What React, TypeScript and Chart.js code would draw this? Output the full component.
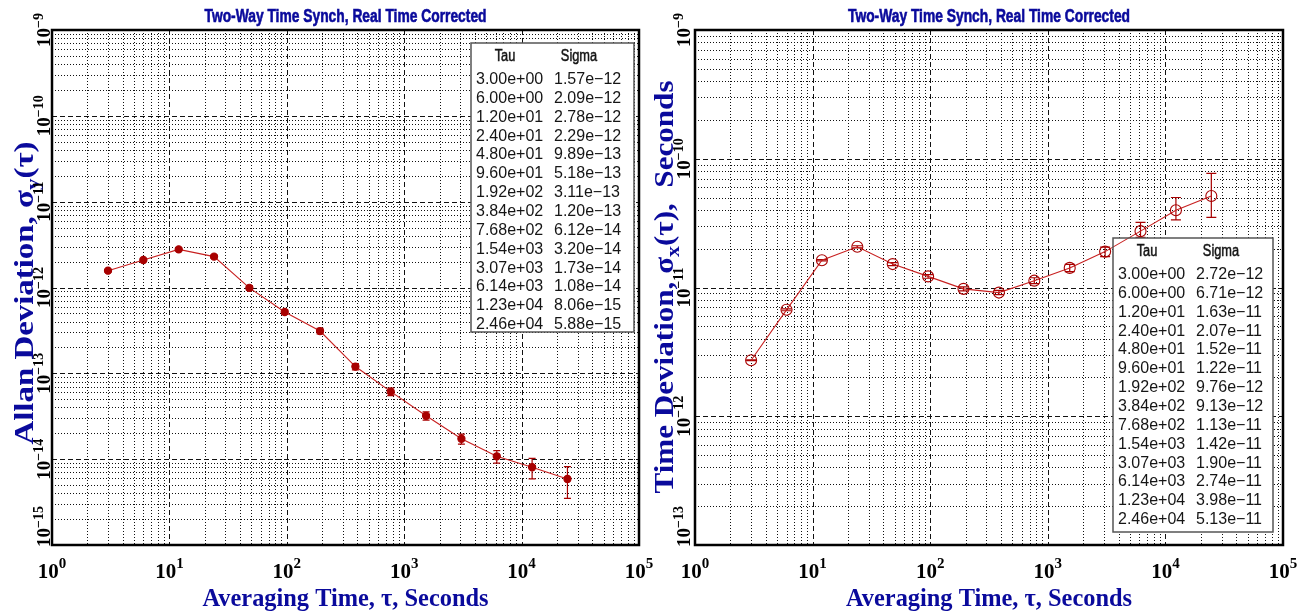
import React, { useEffect, useRef } from "react";
import { Chart, registerables } from "chart.js";

Chart.register(...registerables);

// ---------------- data ----------------
const TAU = [3, 6, 12, 24, 48, 96, 192, 384, 768, 1536, 3072, 6144, 12288, 24576];

const ADEV = [1.57e-12, 2.09e-12, 2.78e-12, 2.29e-12, 9.89e-13, 5.18e-13, 3.11e-13, 1.2e-13, 6.12e-14, 3.2e-14, 1.73e-14, 1.08e-14, 8.06e-15, 5.88e-15];
const ADEV_LO = [1.52e-12, 2.03e-12, 2.69e-12, 2.19e-12, 9.3e-13, 4.85e-13, 2.88e-13, 1.1e-13, 5.5e-14, 2.85e-14, 1.5e-14, 9.0e-15, 5.9e-15, 3.5e-15];
const ADEV_HI = [1.62e-12, 2.15e-12, 2.87e-12, 2.39e-12, 1.05e-12, 5.5e-13, 3.35e-13, 1.3e-13, 6.75e-14, 3.55e-14, 1.96e-14, 1.26e-14, 1.02e-14, 8.2e-15];

const TDEV = [2.72e-12, 6.71e-12, 1.63e-11, 2.07e-11, 1.52e-11, 1.22e-11, 9.76e-12, 9.13e-12, 1.13e-11, 1.42e-11, 1.9e-11, 2.74e-11, 3.98e-11, 5.13e-11];
const TDEV_LO = [2.7e-12, 6.6e-12, 1.61e-11, 2.03e-11, 1.48e-11, 1.18e-11, 9.4e-12, 8.8e-12, 1.07e-11, 1.33e-11, 1.74e-11, 2.45e-11, 3.35e-11, 3.5e-11];
const TDEV_HI = [2.74e-12, 6.82e-12, 1.65e-11, 2.11e-11, 1.56e-11, 1.26e-11, 1.01e-11, 9.5e-12, 1.19e-11, 1.51e-11, 2.06e-11, 3.2e-11, 5.0e-11, 7.7e-11];

const X_DECADES = [0, 1, 2, 3, 4, 5];
const Y_DECADES_ADEV = [-15, -14, -13, -12, -11, -10, -9];
const Y_DECADES_TDEV = [-13, -12, -11, -10, -9];
const MINOR_MULTS = [2, 3, 4, 5, 6, 7, 8, 9];

const TITLE = "Two-Way Time Synch, Real Time Corrected";
const X_TITLE = "Averaging Time, \u03c4, Seconds";
const LEGEND_HEAD = ["Tau", "Sigma"];
const Y_TITLE_ADEV = [
  { text: "Allan Deviation, \u03c3", sub: false },
  { text: "y", sub: true },
  { text: "(\u03c4)", sub: false },
];
const Y_TITLE_TDEV = [
  { text: "Time Deviation, \u03c3", sub: false },
  { text: "x", sub: true },
  { text: "(\u03c4),  Seconds", sub: false },
];

// ---------------- styles ----------------
const SERIF = '"Liberation Serif", "DejaVu Serif", serif';
const SANS = '"Liberation Sans", Arial, sans-serif';
const BLUE = "#0a0a9c";
const LINE_RED = "#c82020";
const MARK_RED = "#a80000";

type Part = { text: string; font: string; dy: number };

function fmtExp(v: number): string {
  const s = v.toExponential(2);
  const [m, e] = s.split("e");
  const sign = e[0] === "-" ? "\u2212" : "+";
  const digits = e.slice(1).padStart(2, "0");
  return m + "e" + sign + digits;
}

function partsWidth(ctx: CanvasRenderingContext2D, parts: Part[]) {
  let w = 0;
  for (const p of parts) {
    ctx.font = p.font;
    w += ctx.measureText(p.text).width;
  }
  return w;
}

function drawParts(
  ctx: CanvasRenderingContext2D,
  parts: Part[],
  x: number,
  y: number,
  rot: number,
  targetW: number | null,
  clampEnd: number | null,
  stroke = 0
) {
  const w = partsWidth(ctx, parts);
  const sx = targetW ? targetW / w : 1;
  const total = w * sx;
  let cy = y;
  if (rot !== 0 && clampEnd !== null && cy + total / 2 > clampEnd) cy = clampEnd - total / 2;
  ctx.save();
  ctx.translate(x, cy);
  if (rot !== 0) ctx.rotate(rot);
  ctx.scale(sx, 1);
  ctx.textAlign = "left";
  ctx.textBaseline = "alphabetic";
  let xx = -w / 2;
  for (const p of parts) {
    ctx.font = p.font;
    ctx.fillText(p.text, xx, p.dy);
    if (stroke > 0) {
      ctx.lineWidth = stroke;
      ctx.strokeStyle = ctx.fillStyle as string;
      ctx.strokeText(p.text, xx, p.dy);
    }
    xx += ctx.measureText(p.text).width;
  }
  ctx.restore();
}

type PanelCfg = {
  left: number;
  width: number;
  padding: { left: number; right: number; top: number; bottom: number };
  yDecades: number[];
  values: number[];
  lo: number[];
  hi: number[];
  filled: boolean;
  yTitle: { text: string; sub: boolean }[];
  yTitleLen: number;
  yTitleX: number;
  yTitleCY: number;
  tickGap: number;
  capW: number;
  box: { x: number; y: number; w: number; h: number };
};

const PANELS: PanelCfg[] = [
  {
    left: 0,
    width: 654,
    padding: { left: 52, right: 15, top: 30, bottom: 68 },
    yDecades: Y_DECADES_ADEV,
    values: ADEV,
    lo: ADEV_LO,
    hi: ADEV_HI,
    filled: true,
    yTitle: Y_TITLE_ADEV,
    yTitleLen: 303,
    yTitleX: 33,
    yTitleCY: 293,
    tickGap: 2,
    capW: 7,
    box: { x: 471, y: 43, w: 163, h: 289 },
  },
  {
    left: 654,
    width: 655,
    padding: { left: 41, right: 26, top: 30, bottom: 68 },
    yDecades: Y_DECADES_TDEV,
    values: TDEV,
    lo: TDEV_LO,
    hi: TDEV_HI,
    filled: false,
    yTitle: Y_TITLE_TDEV,
    yTitleLen: 413,
    yTitleX: 19,
    yTitleCY: 287,
    tickGap: 5,
    capW: 10,
    box: { x: 459, y: 238, w: 160, h: 294 },
  },
];

function makePlugin(cfg: PanelCfg) {
  return {
    id: "panelDecor",
    beforeDatasetsDraw(chart: any) {
      const { ctx, chartArea: a, scales } = chart;
      const xs = scales.x;
      const ys = scales.y;
      ctx.save();
      ctx.beginPath();
      ctx.rect(a.left, a.top, a.right - a.left, a.bottom - a.top);
      ctx.clip();
      ctx.strokeStyle = "#111";
      ctx.lineWidth = 1;
      // minor grid
      ctx.setLineDash([1, 2]);
      ctx.beginPath();
      for (let i = 0; i < X_DECADES.length - 1; i++) {
        for (const m of MINOR_MULTS) {
          const px = Math.round(xs.getPixelForValue(m * Math.pow(10, X_DECADES[i]))) + 0.5;
          ctx.moveTo(px, a.top);
          ctx.lineTo(px, a.bottom);
        }
      }
      for (let i = 0; i < cfg.yDecades.length - 1; i++) {
        for (const m of MINOR_MULTS) {
          const py = Math.round(ys.getPixelForValue(m * Math.pow(10, cfg.yDecades[i]))) + 0.5;
          ctx.moveTo(a.left, py);
          ctx.lineTo(a.right, py);
        }
      }
      ctx.stroke();
      // major grid
      ctx.setLineDash([5, 3]);
      ctx.beginPath();
      for (const d of X_DECADES) {
        const px = Math.round(xs.getPixelForValue(Math.pow(10, d))) + 0.5;
        ctx.moveTo(px, a.top);
        ctx.lineTo(px, a.bottom);
      }
      for (const d of cfg.yDecades) {
        const py = Math.round(ys.getPixelForValue(Math.pow(10, d))) + 0.5;
        ctx.moveTo(a.left, py);
        ctx.lineTo(a.right, py);
      }
      ctx.stroke();
      ctx.restore();

      // legend box background (under data)
      const b = cfg.box;
      ctx.save();
      ctx.fillStyle = "#fff";
      ctx.fillRect(b.x, b.y, b.w, b.h);
      ctx.restore();

      // error bars
      ctx.save();
      ctx.strokeStyle = MARK_RED;
      ctx.lineWidth = 1.2;
      ctx.setLineDash([]);
      ctx.beginPath();
      for (let i = 0; i < TAU.length; i++) {
        const px = xs.getPixelForValue(TAU[i]);
        const yl = ys.getPixelForValue(cfg.lo[i]);
        const yh = ys.getPixelForValue(cfg.hi[i]);
        ctx.moveTo(px, yl);
        ctx.lineTo(px, yh);
        ctx.moveTo(px - cfg.capW / 2, yl);
        ctx.lineTo(px + cfg.capW / 2, yl);
        ctx.moveTo(px - cfg.capW / 2, yh);
        ctx.lineTo(px + cfg.capW / 2, yh);
      }
      ctx.stroke();
      ctx.restore();
    },
    afterDraw(chart: any) {
      const { ctx, chartArea: a, scales } = chart;
      const xs = scales.x;
      const ys = scales.y;
      const cx = (a.left + a.right) / 2;

      // legend table
      const b = cfg.box;
      ctx.save();
      ctx.strokeStyle = "#555";
      ctx.lineWidth = 1.5;
      ctx.strokeRect(b.x, b.y, b.w, b.h);
      ctx.fillStyle = "#151515";
      ctx.textBaseline = "alphabetic";
      ctx.textAlign = "center";
      ctx.font = `16px ${SANS}`;
      const headCx = [b.x + 34, b.x + 108];
      LEGEND_HEAD.forEach((h, k) => {
        ctx.save();
        ctx.translate(headCx[k], b.y + 18);
        ctx.scale(0.8, 1);
        ctx.fillText(h, 0, 0);
        ctx.lineWidth = 0.5;
        ctx.strokeStyle = "#151515";
        ctx.strokeText(h, 0, 0);
        ctx.restore();
      });
      ctx.textAlign = "left";
      for (let i = 0; i < TAU.length; i++) {
        const yy = b.y + 41 + i * 18.85;
        ctx.fillText(fmtExp(TAU[i]), b.x + 5, yy);
        ctx.fillText(fmtExp(cfg.values[i]), b.x + 83, yy);
      }
      ctx.restore();

      // border
      ctx.save();
      ctx.strokeStyle = "#000";
      ctx.lineWidth = 2.5;
      ctx.setLineDash([]);
      ctx.strokeRect(a.left, a.top, a.right - a.left, a.bottom - a.top);
      ctx.restore();

      ctx.save();
      // title
      ctx.fillStyle = BLUE;
      drawParts(ctx, [{ text: TITLE, font: `bold 18px ${SANS}`, dy: 0 }], cx, 22, 0, 282, null, 0.6);
      // x title
      drawParts(ctx, [{ text: X_TITLE, font: `bold 26px ${SERIF}`, dy: 0 }], cx, 606, 0, 286, null);
      // y title
      const yParts: Part[] = cfg.yTitle.map((p) =>
        p.sub
          ? { text: p.text, font: `bold 19px ${SERIF}`, dy: 6 }
          : { text: p.text, font: `bold 27px ${SERIF}`, dy: 0 }
      );
      drawParts(ctx, yParts, cfg.yTitleX, cfg.yTitleCY, -Math.PI / 2, cfg.yTitleLen, null);

      // tick labels
      ctx.fillStyle = "#000";
      for (const d of X_DECADES) {
        const px = xs.getPixelForValue(Math.pow(10, d));
        drawParts(
          ctx,
          [
            { text: "10", font: `bold 21px ${SERIF}`, dy: 0 },
            { text: String(d), font: `bold 15px ${SERIF}`, dy: -10 },
          ],
          px,
          a.bottom + 33,
          0,
          null,
          null
        );
      }
      for (const d of cfg.yDecades) {
        const py = ys.getPixelForValue(Math.pow(10, d));
        drawParts(
          ctx,
          [
            { text: "10", font: `bold 19px ${SERIF}`, dy: 0 },
            { text: "\u2212" + String(-d), font: `bold 14px ${SERIF}`, dy: -7 },
          ],
          a.left - cfg.tickGap,
          py,
          -Math.PI / 2,
          null,
          a.bottom + 2
        );
      }
      ctx.restore();
    },
  };
}

function Panel({ cfg }: { cfg: PanelCfg }) {
  const ref = useRef<HTMLCanvasElement | null>(null);
  useEffect(() => {
    if (!ref.current) return;
    const chart = new Chart(ref.current, {
      type: "line",
      data: {
        datasets: [
          {
            data: TAU.map((t, i) => ({ x: t, y: cfg.values[i] })),
            borderColor: LINE_RED,
            borderWidth: 1.1,
            pointRadius: cfg.filled ? 3.6 : 5.5,
            pointBackgroundColor: cfg.filled ? MARK_RED : "rgba(0,0,0,0)",
            pointBorderColor: MARK_RED,
            pointBorderWidth: 1.1,
            tension: 0,
            fill: false,
          },
        ],
      },
      options: {
        responsive: false,
        animation: false,
        devicePixelRatio: 1,
        events: [],
        layout: { padding: cfg.padding },
        scales: {
          x: { type: "logarithmic", min: 1, max: 1e5, display: false },
          y: {
            type: "logarithmic",
            min: Math.pow(10, cfg.yDecades[0]),
            max: Math.pow(10, cfg.yDecades[cfg.yDecades.length - 1]),
            display: false,
          },
        },
        plugins: {
          legend: { display: false },
          tooltip: { enabled: false },
          title: { display: false },
        },
      } as any,
      plugins: [makePlugin(cfg) as any],
    });
    return () => chart.destroy();
  }, [cfg]);
  return (
    <canvas
      ref={ref}
      width={cfg.width}
      height={613}
      style={{ position: "absolute", left: cfg.left, top: 0, width: cfg.width, height: 613 }}
    />
  );
}

export default function App() {
  return (
    <div style={{ position: "absolute", left: 0, top: 0, width: 1309, height: 613, background: "#fff" }}>
      {PANELS.map((p, i) => (
        <Panel key={i} cfg={p} />
      ))}
    </div>
  );
}
